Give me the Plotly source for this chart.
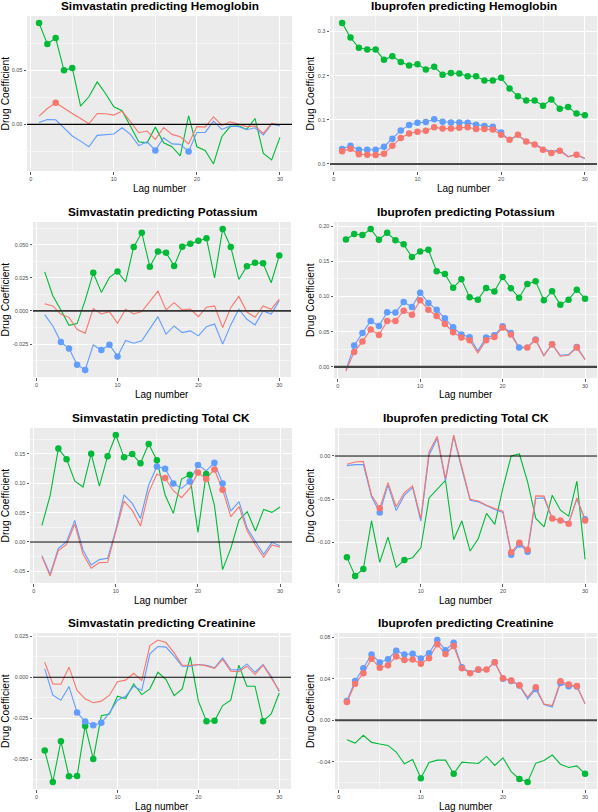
import plotly.graph_objects as go

W, H = 598, 812
lags = list(range(1, 31))

RED, GREEN, BLUE = "#F8766D", "#00BA38", "#619CFF"

# ---------------- data (drug coefficient per lag) ----------------
# Panel 1: Simvastatin predicting Hemoglobin
sim_hgb_green = [0.0936, 0.0743, 0.0798, 0.0500, 0.0522, 0.0169, 0.0255, 0.0393, 0.0286, 0.0163,
                 0.0126, -0.0020, -0.0160, -0.0170, -0.0025, -0.0170, -0.0206, -0.0290, 0.0080, -0.0206,
                 -0.0240, -0.0365, -0.0114, -0.0020, -0.0012, -0.0046, 0.0055, -0.0267, -0.0328, -0.0120]
sim_hgb_red = [0.0077, 0.0147, 0.0200, 0.0147, 0.0101, 0.0055, 0.0006, 0.0101, 0.0098, 0.0086,
               0.0123, 0.0025, -0.0077, -0.0061, -0.0138, -0.0028, -0.0092, -0.0114, -0.0180, -0.0020,
               -0.0025, 0.0071, -0.0009, 0.0025, 0.0000, -0.0020, -0.0015, -0.0083, 0.0009, -0.0006]
sim_hgb_blue = [0.0018, 0.0046, 0.0043, -0.0037, -0.0107, -0.0154, -0.0206, -0.0101, -0.0092, -0.0089,
                -0.0031, -0.0092, -0.0196, -0.0160, -0.0240, -0.0123, -0.0180, -0.0184, -0.0249, -0.0074,
                -0.0074, 0.0031, -0.0046, -0.0015, -0.0020, -0.0049, -0.0031, -0.0098, 0.0003, -0.0015]
sim_hgb_sig_green = [1, 2, 3, 4, 5]
sim_hgb_sig_red = [3]
sim_hgb_sig_blue = [15, 19]

# Panel 2: Ibuprofen predicting Hemoglobin
ibu_hgb_green = [0.319, 0.286, 0.263, 0.259, 0.259, 0.236, 0.244, 0.231, 0.223, 0.226,
                 0.214, 0.220, 0.202, 0.206, 0.2045, 0.1985, 0.1985, 0.189, 0.189, 0.195,
                 0.171, 0.153, 0.1436, 0.1436, 0.132, 0.146, 0.125, 0.129, 0.114, 0.110]
ibu_hgb_red = [0.0286, 0.0346, 0.0218, 0.021, 0.020, 0.023, 0.041, 0.059, 0.069, 0.073,
               0.075, 0.083, 0.080, 0.080, 0.082, 0.083, 0.079, 0.079, 0.078, 0.066,
               0.055, 0.066, 0.051, 0.044, 0.032, 0.025, 0.030, 0.016, 0.021, 0.013]
ibu_hgb_blue = [0.034, 0.041, 0.032, 0.032, 0.032, 0.039, 0.057, 0.076, 0.088, 0.093,
                0.095, 0.101, 0.0955, 0.094, 0.094, 0.093, 0.089, 0.086, 0.084, 0.071,
                0.054, 0.065, 0.051, 0.045, 0.035, 0.028, 0.032, 0.017, 0.021, 0.012]
ibu_hgb_sig_green = list(range(1, 31))
ibu_hgb_sig_red = list(range(1, 28)) + [29]
ibu_hgb_sig_blue = list(range(1, 21))

# Panel 3: Simvastatin predicting Potassium
sim_k_green = [0.0295, 0.0115, 0.0008, -0.0108, -0.0095, 0.0080, 0.0288, 0.0140, 0.0253, 0.0298,
               0.0220, 0.0483, 0.0590, 0.0333, 0.0448, 0.0440, 0.0340, 0.0485, 0.0508, 0.0530,
               0.0548, 0.0250, 0.0618, 0.0483, 0.0238, 0.0338, 0.0363, 0.0360, 0.0213, 0.0418]
sim_k_red = [0.0055, 0.0038, -0.0025, -0.0048, -0.0138, -0.0168, 0.0018, -0.0023, -0.0005, -0.0093,
             0.0013, -0.0023, -0.0005, 0.0070, 0.0150, 0.0008, 0.0063, 0.0008, 0.0015, -0.0043,
             0.0028, 0.0038, -0.0125, 0.0025, 0.0110, -0.0008, -0.0048, 0.0038, 0.0013, 0.0090]
sim_k_blue = [-0.0028, -0.0113, -0.0235, -0.0283, -0.0405, -0.0445, -0.0255, -0.0295, -0.0255, -0.0343,
              -0.0223, -0.0243, -0.0225, -0.0138, -0.0043, -0.0175, -0.0113, -0.0163, -0.0150, -0.0188,
              -0.0118, -0.0098, -0.0250, -0.0105, 0.0013, -0.0063, -0.0105, 0.0000, -0.0023, 0.0078]
sim_k_sig_green = [7, 10, 12, 13, 14, 15, 16, 17, 18, 19, 20, 21, 23, 24, 26, 27, 28, 30]
sim_k_sig_red = []
sim_k_sig_blue = [3, 4, 5, 6, 8, 9, 10]

# Panel 4: Ibuprofen predicting Potassium
ibu_k_green = [0.181, 0.1887, 0.1872, 0.1957, 0.1806, 0.1905, 0.1797, 0.174, 0.156, 0.164,
               0.1664, 0.1357, 0.1319, 0.1125, 0.1243, 0.0988, 0.0955, 0.112, 0.1069, 0.1277,
               0.1116, 0.0983, 0.1177, 0.1215, 0.0946, 0.1073, 0.0884, 0.0955, 0.1097, 0.0969]
ibu_k_red = [-0.0057, 0.0213, 0.0359, 0.053, 0.0454, 0.0652, 0.0652, 0.0799, 0.0742, 0.0946,
             0.0813, 0.0723, 0.061, 0.0492, 0.0416, 0.0378, 0.0199, 0.0378, 0.0426, 0.0558,
             0.0459, 0.027, 0.0274, 0.0383, 0.0156, 0.0322, 0.0151, 0.0165, 0.0274, 0.0104]
ibu_k_blue = [-0.0047, 0.0303, 0.0482, 0.0652, 0.0582, 0.0775, 0.0771, 0.0922, 0.0851, 0.1054,
              0.0908, 0.0813, 0.069, 0.0563, 0.0459, 0.0421, 0.0227, 0.0416, 0.0449, 0.0577,
              0.0482, 0.0274, 0.0284, 0.0388, 0.0165, 0.0322, 0.0165, 0.0175, 0.0284, 0.0109]
ibu_k_sig_green = list(range(1, 31))
ibu_k_sig_red = list(range(2, 17)) + [18, 19, 20, 21, 23, 24, 26, 29]
ibu_k_sig_blue = list(range(2, 17)) + [18, 19, 20, 21, 22, 24, 26, 29]

# Panel 5: Simvastatin predicting Total CK
sim_ck_green = [0.0283, 0.0788, 0.159, 0.141, 0.104, 0.0935, 0.150, 0.0952, 0.146, 0.182,
                0.144, 0.1496, 0.134, 0.1666, 0.139, 0.080, 0.0487, 0.107, 0.1144, 0.0164,
                0.1156, 0.0629, -0.047, -0.0108, 0.0374, 0.0516, 0.0187, 0.0555, 0.0504, 0.0595]
sim_ck_red = [-0.0249, -0.0578, -0.0147, -0.004, 0.0306, -0.0204, -0.0448, -0.0351, -0.0346, 0.0193,
              0.0697, 0.0538, 0.0272, 0.0844, 0.1156, 0.1088, 0.0873, 0.0754, 0.0912, 0.1184,
              0.1071, 0.1235, 0.089, 0.0431, 0.0601, 0.0187, -0.0051, -0.0261, -0.0051, -0.0091]
sim_ck_blue = [-0.0232, -0.055, -0.0108, 0.0006, 0.0368, -0.0136, -0.039, -0.030, -0.0278, 0.021,
               0.080, 0.0657, 0.0402, 0.0969, 0.1286, 0.1246, 0.0997, 0.0912, 0.1031, 0.1309,
               0.1212, 0.1348, 0.0997, 0.0527, 0.0686, 0.0232, 0.0006, -0.021, -0.0006, -0.0068]
sim_ck_sig_green = [3, 4, 7, 9, 10, 11, 12, 13, 14, 15, 19, 21]
sim_ck_sig_red = [16, 20, 21, 22, 23]
sim_ck_sig_blue = [15, 16, 17, 19, 20, 22, 23]

# Panel 6: Ibuprofen predicting Total CK
ibu_ck_green = [-0.1173, -0.1388, -0.1308, -0.075, -0.1231, -0.0938, -0.1288, -0.1204, -0.1177, -0.1062,
                -0.0485, -0.0377, -0.0281, -0.0969, -0.075, -0.110, -0.0954, -0.0665, -0.0792, -0.0369,
                0.0000, 0.0023, -0.030, -0.0723, -0.0819, -0.0454, -0.0627, -0.0696, -0.0292, -0.1196]
ibu_ck_red = [-0.0096, -0.0069, -0.0062, -0.0454, -0.0604, -0.0308, -0.0588, -0.0423, -0.0346, -0.0723,
              0.0046, 0.0227, -0.0262, 0.0242, -0.0127, -0.050, -0.052, -0.057, -0.0608, -0.0638,
              -0.1115, -0.1004, -0.1085, -0.0462, -0.0465, -0.0723, -0.0746, -0.0785, -0.0485, -0.0746]
ibu_ck_blue = [-0.0112, -0.010, -0.010, -0.0473, -0.0654, -0.0338, -0.0631, -0.0454, -0.0365, -0.0754,
               0.0008, 0.0204, -0.0288, 0.0227, -0.0154, -0.0512, -0.0531, -0.0577, -0.0619, -0.0654,
               -0.1142, -0.1023, -0.1108, -0.0492, -0.0485, -0.0731, -0.0742, -0.0769, -0.050, -0.0731]
ibu_ck_sig_green = [1, 2, 3, 8]
ibu_ck_sig_red = [5, 21, 22, 23, 26, 27, 28, 30]
ibu_ck_sig_blue = [5, 21, 22, 23, 30]

# Panel 7: Simvastatin predicting Creatinine
sim_cr_green = [-0.0447, -0.0638, -0.039, -0.0604, -0.0602, -0.0297, -0.0498, -0.0234, -0.0224, -0.0116,
                -0.013, -0.0041, -0.0106, -0.0071, 0.003, -0.0014, -0.0112, -0.0071, 0.0124, -0.0146,
                -0.0268, -0.0266, -0.0173, -0.014, 0.0073, -0.0055, -0.0055, -0.0268, -0.0224, -0.0096]
sim_cr_red = [0.0091, -0.0041, -0.0043, 0.0061, -0.0081, -0.0132, -0.0156, -0.0146, -0.011, -0.0028,
              -0.0018, 0.0024, -0.002, 0.0193, 0.0226, 0.0211, 0.0148, 0.0073, 0.0073, 0.0077,
              0.0069, 0.0053, 0.0108, 0.0037, 0.0033, 0.0067, 0.0016, 0.0073, -0.0004, -0.0083]
sim_cr_blue = [0.0051, -0.011, -0.014, -0.0057, -0.0215, -0.027, -0.0293, -0.0278, -0.0217, -0.014,
               -0.0116, -0.0055, -0.0081, 0.0142, 0.0187, 0.0183, 0.0128, 0.0067, 0.0067, 0.0077,
               0.0073, 0.0057, 0.0118, 0.0047, 0.0043, 0.0081, 0.003, 0.0077, 0.0006, -0.0089]
sim_cr_sig_green = [1, 2, 3, 4, 5, 6, 7, 21, 22, 28]
sim_cr_sig_red = []
sim_cr_sig_blue = [5, 6, 7, 8]

# Panel 8: Ibuprofen predicting Creatinine
ibu_cr_green = [-0.0187, -0.0219, -0.0145, -0.0213, -0.0229, -0.0242, -0.0306, -0.0419, -0.0377, -0.0558,
                -0.0406, -0.0384, -0.0384, -0.0516, -0.0403, -0.0413, -0.0416, -0.0348, -0.0435, -0.0361,
                -0.0494, -0.0565, -0.0594, -0.0413, -0.0387, -0.0335, -0.0423, -0.0455, -0.0439, -0.0516]
ibu_cr_red = [0.0177, 0.0352, 0.0455, 0.0594, 0.0506, 0.0532, 0.0616, 0.0581, 0.0587, 0.0545,
              0.060, 0.0735, 0.0639, 0.0716, 0.0503, 0.0455, 0.049, 0.049, 0.0561, 0.0406,
              0.0384, 0.0339, 0.0223, 0.0319, 0.0158, 0.0142, 0.0377, 0.0345, 0.0332, 0.0161]
ibu_cr_blue = [0.0187, 0.038, 0.0503, 0.0635, 0.0558, 0.059, 0.0671, 0.0635, 0.0642, 0.0597,
               0.0648, 0.0774, 0.0677, 0.0748, 0.0513, 0.0465, 0.0487, 0.0487, 0.0561, 0.040,
               0.038, 0.0335, 0.0206, 0.0303, 0.0152, 0.0129, 0.0361, 0.0329, 0.0326, 0.0161]
ibu_cr_sig_green = [10, 14, 22, 23, 30]
ibu_cr_sig_red = list(range(1, 23)) + [24, 27, 28, 29]
ibu_cr_sig_blue = list(range(1, 16)) + [17, 19, 20, 21, 22, 24, 27, 28, 29]

# ---------------- titles and tick labels ----------------
titles = ["Simvastatin predicting Hemoglobin", "Ibuprofen predicting Hemoglobin",
          "Simvastatin predicting Potassium", "Ibuprofen predicting Potassium",
          "Simvastatin predicting Total CK", "Ibuprofen predicting Total CK",
          "Simvastatin predicting Creatinine", "Ibuprofen predicting Creatinine"]

x_ticks = [0, 10, 20, 30]
x_minor = [5, 15, 25]

y_ticks = [[0.0, 0.05], [0.0, 0.1, 0.2, 0.3], [-0.05, -0.025, 0.0, 0.025, 0.05],
           [0.0, 0.05, 0.1, 0.15, 0.2], [-0.05, 0.0, 0.05, 0.1, 0.15], [-0.1, -0.05, 0.0],
           [-0.05, -0.025, 0.0, 0.025], [-0.04, 0.0, 0.04, 0.08]]
y_labels = [["0.00", "0.05"], ["0.0", "0.1", "0.2", "0.3"],
            ["-0.050", "-0.025", "0.000", "0.025", "0.050"],
            ["0.00", "0.05", "0.10", "0.15", "0.20"], ["-0.05", "0.00", "0.05", "0.10", "0.15"],
            ["-0.10", "-0.05", "0.00"], ["-0.050", "-0.025", "0.000", "0.025"],
            ["-0.04", "0.00", "0.04", "0.08"]]

panels = [
    (sim_hgb_green, sim_hgb_blue, sim_hgb_red, sim_hgb_sig_green, sim_hgb_sig_blue, sim_hgb_sig_red),
    (ibu_hgb_green, ibu_hgb_blue, ibu_hgb_red, ibu_hgb_sig_green, ibu_hgb_sig_blue, ibu_hgb_sig_red),
    (sim_k_green, sim_k_blue, sim_k_red, sim_k_sig_green, sim_k_sig_blue, sim_k_sig_red),
    (ibu_k_green, ibu_k_blue, ibu_k_red, ibu_k_sig_green, ibu_k_sig_blue, ibu_k_sig_red),
    (sim_ck_green, sim_ck_blue, sim_ck_red, sim_ck_sig_green, sim_ck_sig_blue, sim_ck_sig_red),
    (ibu_ck_green, ibu_ck_blue, ibu_ck_red, ibu_ck_sig_green, ibu_ck_sig_blue, ibu_ck_sig_red),
    (sim_cr_green, sim_cr_blue, sim_cr_red, sim_cr_sig_green, sim_cr_sig_blue, sim_cr_sig_red),
    (ibu_cr_green, ibu_cr_blue, ibu_cr_red, ibu_cr_sig_green, ibu_cr_sig_blue, ibu_cr_sig_red),
]

# panel pixel boxes (left, right, top, bottom)
boxes = [(27, 292, 16, 171), (330, 597, 16, 171),
         (33, 291, 222, 377), (334, 597, 222, 378),
         (30, 292, 428, 583), (335, 597, 428, 583),
         (33, 291, 633, 789), (335, 597, 633, 789)]
hline_style = [("#000000", 1.1), ("#111111", 1.4), ("#333333", 1.8), ("#444444", 2.2),
               ("#000000", 1.1), ("#000000", 1.1), ("#000000", 1.1), ("#444444", 2.0)]

FONT = "Liberation Sans, Arial, Helvetica, sans-serif"
fig = go.Figure()
annotations = []
shapes = []
layout_axes = {}

for i, (g, b, r, sg, sb, sr) in enumerate(panels):
    n = i + 1
    xa = "x" if n == 1 else f"x{n}"
    ya = "y" if n == 1 else f"y{n}"
    L, R, T, B = boxes[i]
    allv = g + b + r + [0.0]
    lo, hi = min(allv), max(allv)
    pad = 0.05 * (hi - lo)
    yr = [lo - pad, hi + pad]
    ystep = y_ticks[i][1] - y_ticks[i][0]
    yminor = [t + ystep / 2 for t in [y_ticks[i][0] - ystep] + y_ticks[i]]

    axis_common = dict(showline=False, zeroline=False, ticks="outside", ticklen=2.5,
                       tickcolor="#333333", tickwidth=0.8, gridcolor="white", gridwidth=1.0,
                       tickfont=dict(size=5.5, color="#4D4D4D", family=FONT),
                       automargin=False, fixedrange=True)
    layout_axes["xaxis" if n == 1 else f"xaxis{n}"] = dict(
        domain=[L / W, R / W], anchor=ya, range=[-0.45, 31.45],
        tickmode="array", tickvals=x_ticks, ticktext=[str(t) for t in x_ticks],
        minor=dict(tickmode="array", tickvals=x_minor, showgrid=True,
                   gridcolor="white", gridwidth=0.5, ticks=""),
        **axis_common)
    layout_axes["yaxis" if n == 1 else f"yaxis{n}"] = dict(
        domain=[1 - B / H, 1 - T / H], anchor=xa, range=yr,
        tickmode="array", tickvals=y_ticks[i], ticktext=y_labels[i],
        minor=dict(tickmode="array", tickvals=yminor, showgrid=True,
                   gridcolor="white", gridwidth=0.5, ticks=""),
        **axis_common)
    hc, hw = hline_style[i]
    shapes.append(dict(type="line", xref=f"{xa} domain", yref=ya, x0=0, x1=1, y0=0, y1=0,
                       line=dict(color=hc, width=hw), layer="above"))

    for vals, col in ((g, GREEN), (b, BLUE), (r, RED)):
        fig.add_trace(go.Scatter(x=lags, y=vals, mode="lines", xaxis=xa, yaxis=ya,
                                 line=dict(color=col, width=1.1), showlegend=False,
                                 hoverinfo="skip"))
    for vals, sig, col in ((g, sg, GREEN), (b, sb, BLUE), (r, sr, RED)):
        if sig:
            fig.add_trace(go.Scatter(x=sig, y=[vals[k - 1] for k in sig], mode="markers",
                                     xaxis=xa, yaxis=ya, showlegend=False,
                                     marker=dict(color=col, size=6.5, line=dict(width=0)),
                                     hoverinfo="skip"))

    cx = (L + R) / 2
    annotations.append(dict(text=titles[i], x=cx / W, y=1 - (T - 10) / H, xref="paper",
                            yref="paper", showarrow=False, xanchor="center", yanchor="middle",
                            font=dict(size=11.8, color="black", family=FONT, weight="bold")))
    annotations.append(dict(text="Lag number", x=cx / W, y=1 - (B + 17) / H, xref="paper",
                            yref="paper", showarrow=False, xanchor="center", yanchor="middle",
                            font=dict(size=10, color="black", family=FONT)))
    yt_x = 5 if L < 300 else 310
    annotations.append(dict(text="Drug Coefficient", x=yt_x / W, y=1 - ((T + B) / 2) / H,
                            xref="paper", yref="paper", showarrow=False, textangle=-90,
                            xanchor="center", yanchor="middle",
                            font=dict(size=10.3, color="black", family=FONT)))

fig.update_layout(width=W, height=H, margin=dict(l=0, r=0, t=0, b=0),
                  paper_bgcolor="white", plot_bgcolor="#EBEBEB", template="none",
                  annotations=annotations, shapes=shapes, showlegend=False, **layout_axes)
fig.write_html("out.html", config={"displayModeBar": False, "staticPlot": True},
               post_script="document.body.style.margin='0';document.body.style.padding='0';"
                           "document.documentElement.style.overflow='hidden';")
